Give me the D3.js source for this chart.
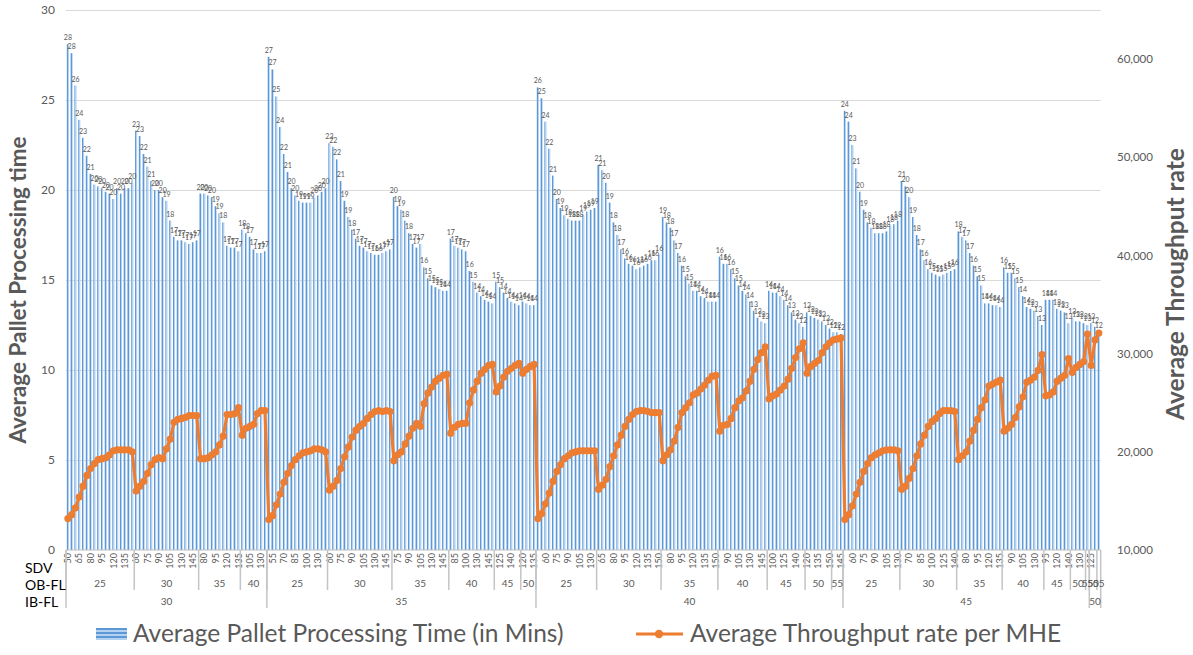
<!DOCTYPE html>
<html>
<head>
<meta charset="utf-8">
<script src="https://cdn.jsdelivr.net/npm/d3@7"></script>
<style>
  body { margin: 0; background: #fff; }
  svg { display: block; }
  text { font-family: Lato, "Open Sans", "Liberation Sans", sans-serif; }
</style>
</head>
<body>
<svg id="chart" width="1193" height="655"></svg>
<script>
// IB-FL levels and the OB-FL levels run under each of them
const ibLevels = [30, 35, 40, 45, 50];
const obLevels = [
  [25, 30, 35, 40],
  [25, 30, 35, 40, 45, 50],
  [25, 30, 35, 40, 45, 50, 55],
  [25, 30, 35, 40, 45, 50, 55],
  [50, 55]
];

// SDV values for each (IB-FL, OB-FL) block, in drawing order
const sdvValues = [
  [50,55,60,65,70,75,80,85,90,95,100,110,120,125,130,135,140,145],
  [60,65,70,75,80,85,90,95,100,105,110,120,130,135,140,145,150],
  [75,80,85,90,95,100,110,120,125,130,135],
  [95,100,105,110,120,130,135],
  [50,55,60,65,70,75,80,85,90,95,100,110,120,130,135,140],
  [60,65,70,75,80,85,90,95,100,105,110,120,130,135,140,145,150],
  [70,75,80,85,90,95,100,105,110,120,130,135,140,145,150],
  [80,85,90,95,100,110,120,130,135,140,145,150],
  [120,125,130,135,140,145,150],
  [120,125,130,135],
  [50,55,60,65,70,75,80,85,90,95,100,105,110,120,130,135],
  [60,65,70,75,80,85,90,95,100,110,120,125,130,135,140,145,150],
  [70,75,80,85,90,95,100,110,120,125,130,135,140,145,150],
  [80,85,90,95,100,105,110,120,130,135,140,145,150],
  [95,100,110,120,125,130,135,140,145,150],
  [120,125,130,135,140,145,150],
  [135,140,145],
  [50,55,60,65,70,75,80,85,90,95,100,105,110,120,130],
  [60,65,70,75,80,85,90,95,100,110,120,125,130,135,140],
  [70,75,80,85,90,95,100,110,120,125,130,135],
  [80,85,90,95,100,105,110,120,130,135,140],
  [95,100,110,120,130,135,140],
  [120,125,130,135],
  [130],
  [125,130],
  [125]
];

// Average pallet processing time (mins) per block
const palletTime = [
  [28.1,27.6,25.8,23.9,22.9,21.9,20.9,20.3,20.2,20.1,19.9,19.8,19.5,20.1,19.8,20.1,20.1,20.4],
  [23.3,23.0,22.0,21.3,20.5,20.0,20.0,19.6,19.4,18.3,17.4,17.2,17.2,17.1,17.0,17.1,17.2],
  [19.8,19.8,19.7,19.6,19.1,18.7,18.2,16.9,16.8,16.8,16.6],
  [17.8,17.6,17.4,16.7,16.5,16.5,16.6],
  [27.4,26.7,25.2,23.5,22.0,21.0,20.1,19.7,19.4,19.3,19.3,19.3,19.6,19.7,19.9,20.1],
  [22.6,22.4,21.7,20.5,19.4,18.5,17.8,17.3,16.9,16.8,16.6,16.5,16.4,16.4,16.5,16.6,16.7],
  [19.6,19.1,18.9,18.3,17.6,17.0,16.8,17.0,15.7,15.1,14.7,14.6,14.5,14.4,14.4],
  [17.3,16.9,16.8,16.7,16.6,15.5,14.9,14.3,14.1,13.9,13.8,13.7],
  [14.9,14.6,14.3,14.0,13.8,13.7,13.6],
  [13.8,13.7,13.6,13.6],
  [25.7,25.1,23.8,22.3,20.8,19.5,19.0,18.6,18.4,18.3,18.3,18.3,18.6,18.8,18.9,19.0],
  [21.4,21.1,20.4,19.3,18.2,17.5,16.7,16.2,15.9,15.8,15.6,15.7,15.8,15.9,16.1,16.1,16.4],
  [18.5,18.2,17.9,17.2,16.5,15.8,15.2,14.8,14.4,14.4,14.1,14.0,13.8,13.8,13.8],
  [16.3,15.9,15.9,15.6,15.1,14.7,14.4,14.2,13.8,13.3,12.9,12.7,12.6],
  [14.4,14.3,14.3,14.1,13.9,13.6,13.2,12.8,12.6,12.4],
  [13.2,13.0,12.9,12.8,12.7,12.5,12.3],
  [12.1,12.1,12.0],
  [24.4,23.8,22.5,21.2,19.9,18.9,18.2,17.9,17.6,17.6,17.6,17.7,18.0,18.1,18.3],
  [20.5,20.2,19.6,18.5,17.5,16.7,16.1,15.6,15.4,15.3,15.2,15.3,15.4,15.5,15.6],
  [17.7,17.4,17.2,16.5,15.8,15.2,14.7,13.7,13.7,13.6,13.6,13.5],
  [15.7,15.4,15.4,15.1,14.6,14.1,13.5,13.4,13.3,13.0,12.5],
  [13.9,13.9,13.9,13.4,13.3,13.2,12.6],
  [12.9,12.7,12.7,12.6],
  [12.5],
  [12.6,12.4],
  [12.1]
];

// Average throughput rate per MHE per block
const throughput = [
  [13200,13600,14300,15400,16500,17600,18300,18800,19200,19300,19400,19700,20100,20200,20200,20200,20200,20000],
  [16000,16500,17000,17800,18700,19200,19400,19300,20300,21300,23000,23300,23400,23500,23700,23700,23700],
  [19300,19300,19400,19700,20000,20700,21600,23800,23800,23900,24500],
  [21700,22400,22600,22800,23900,24200,24200],
  [13100,13500,14600,15700,16900,17800,18600,19200,19600,19900,20000,20100,20300,20300,20200,20000],
  [16100,16500,17100,18300,19500,20500,21500,22200,22600,22900,23400,23800,24100,24200,24100,24200,24100],
  [19100,19700,20000,20800,21600,22400,22900,22600,24900,26000,26600,27200,27500,27800,27900],
  [21900,22500,22800,22900,22900,25000,26300,27200,28000,28400,28800,28900],
  [26100,26700,27600,28200,28500,28800,29000],
  [28000,28400,28700,28900],
  [13200,13700,14700,15800,17000,18000,18700,19300,19600,19900,20000,20100,20100,20100,20100,20100],
  [16200,16600,17200,18500,19600,20700,21700,22600,23300,23800,24100,24200,24200,24100,24000,24000,24000],
  [19100,19700,20200,21100,22500,24000,24500,25000,25800,26000,26400,26800,27300,27700,27800],
  [22100,22700,22800,23400,24500,25200,25500,26200,27200,28400,29400,30100,30700],
  [25400,25700,25900,26300,26700,27400,28500,29600,30500,31100],
  [28000,28700,29000,29300,30100,30700,31100],
  [31400,31500,31600],
  [13100,13600,14500,15700,16900,18000,18800,19400,19700,19900,20100,20200,20200,20200,20100],
  [16200,16500,17300,18300,19600,20800,21700,22600,23100,23400,23900,24200,24200,24200,24100],
  [19200,19600,20000,21100,22200,23300,24500,25300,26700,26900,27100,27300],
  [22100,22400,22800,23500,24600,25600,27100,27300,27600,28300,29900],
  [25700,25800,26100,27200,27500,27800,29500],
  [28100,28600,28900,29200],
  [32000],
  [28800,31400],
  [32100]
];

const leftTicks = [0, 5, 10, 15, 20, 25, 30];
const rightTicks = [10000, 20000, 30000, 40000, 50000, 60000];

// ---- flatten the three-level category structure ----
const rows = [];
const obBlocks = [];
const ibBlocks = [];
let blockIdx = 0;
ibLevels.forEach((ib, i) => {
  const ibStart = rows.length;
  obLevels[i].forEach(ob => {
    const obStart = rows.length;
    sdvValues[blockIdx].forEach((s, k) => {
      rows.push({ g: rows.length, ib, ob, sdv: s,
                  time: palletTime[blockIdx][k], tp: throughput[blockIdx][k] });
    });
    obBlocks.push({ label: ob, start: obStart, end: rows.length });
    blockIdx++;
  });
  ibBlocks.push({ label: ib, start: ibStart, end: rows.length });
});
const N = rows.length;

const svg = d3.select("#chart");
const plotLeft = 66, plotRight = 1100.7, plotTop = 10, plotBottom = 550;

const x = d3.scaleBand().domain(d3.range(N)).range([plotLeft, plotRight]).padding(0);
const bw = x.bandwidth();
const yL = d3.scaleLinear().domain([0, 30]).range([plotBottom, plotTop]);
const yR = d3.scaleLinear().domain([10000, 65000]).range([plotBottom, plotTop]);
const xEdge = i => (i >= N ? plotRight : x(i));

const defs = svg.append("defs");
const grad = defs.append("linearGradient").attr("id", "barFill")
  .attr("x1", "0").attr("x2", "1").attr("y1", "0").attr("y2", "0");
[["0", "#5d98d6"], ["0.5", "#5d98d6"], ["0.5", "#b3d1f0"], ["1", "#b3d1f0"]]
  .forEach(([o, c]) => grad.append("stop").attr("offset", o).attr("stop-color", c));
const pat = defs.append("pattern").attr("id", "legendStripes")
  .attr("width", 4).attr("height", 4).attr("patternUnits", "userSpaceOnUse");
pat.append("rect").attr("width", 4).attr("height", 4).attr("fill", "#b3d1f0");
pat.append("rect").attr("width", 4).attr("height", 2).attr("fill", "#5d98d6");

// gridlines
svg.append("g").attr("transform", `translate(${plotLeft},0)`)
  .call(d3.axisLeft(yL).tickValues(leftTicks.slice(1)).tickSize(-(plotRight - plotLeft)).tickFormat(""))
  .call(g => g.select(".domain").remove())
  .call(g => g.selectAll("line").attr("stroke", "#d9d9d9").attr("stroke-width", 1));

// bars
svg.append("g").selectAll("rect").data(rows).join("rect")
  .attr("x", d => x(d.g) + bw * 0.22)
  .attr("width", bw * 0.56)
  .attr("y", d => yL(d.time))
  .attr("height", d => yL(0) - yL(d.time))
  .attr("fill", "url(#barFill)");

// bar value labels
svg.append("g").selectAll("text").data(rows).join("text")
  .attr("x", d => x(d.g) + bw / 2)
  .attr("y", d => yL(d.time) - 4)
  .attr("text-anchor", "middle")
  .attr("font-size", 7)
  .attr("fill", "#595959")
  .text(d => d3.format(".0f")(d.time));

// category axis baseline
svg.append("line").attr("x1", plotLeft).attr("x2", plotRight)
  .attr("y1", plotBottom).attr("y2", plotBottom)
  .attr("stroke", "#bfbfbf").attr("stroke-width", 1);

// throughput line
const line = d3.line().x(d => x(d.g) + bw / 2).y(d => yR(d.tp));
svg.append("path").datum(rows).attr("d", line)
  .attr("fill", "none").attr("stroke", "#ed7d31").attr("stroke-width", 3.2)
  .attr("stroke-linejoin", "round");
svg.append("g").selectAll("circle").data(rows).join("circle")
  .attr("cx", d => x(d.g) + bw / 2).attr("cy", d => yR(d.tp)).attr("r", 3.6)
  .attr("fill", "#ed7d31");

// left value axis
svg.append("g").attr("transform", "translate(58,0)")
  .call(d3.axisLeft(yL).tickValues(leftTicks).tickSize(0).tickPadding(3))
  .call(g => g.select(".domain").remove())
  .call(g => g.selectAll("text").attr("font-size", 12).attr("fill", "#595959")
    .style("font-family", "Lato, sans-serif"));

// right value axis
svg.append("g").attr("transform", "translate(1114,0)")
  .call(d3.axisRight(yR).tickValues(rightTicks).tickSize(0).tickPadding(3).tickFormat(d3.format(",")))
  .call(g => g.select(".domain").remove())
  .call(g => g.selectAll("text").attr("font-size", 11.5).attr("fill", "#595959")
    .style("font-family", "Lato, sans-serif"));

// SDV labels (every third category)
const sdvTicks = d3.range(0, N, 3);
svg.append("g").attr("transform", `translate(0,${plotBottom})`)
  .call(d3.axisBottom(x).tickValues(sdvTicks).tickSize(0).tickFormat(i => rows[i].sdv))
  .call(g => g.select(".domain").remove())
  .call(g => g.selectAll("text")
    .attr("transform", "rotate(-90)")
    .attr("text-anchor", "end")
    .attr("x", -3).attr("y", 0).attr("dy", "0.35em")
    .attr("font-size", 9).attr("fill", "#595959")
    .style("font-family", "Lato, sans-serif"));

// group separators and group labels
const sep = svg.append("g").attr("stroke", "#c4c4c4").attr("stroke-width", 1.5);
obBlocks.forEach(b => {
  sep.append("line").attr("x1", xEdge(b.start)).attr("x2", xEdge(b.start))
    .attr("y1", plotBottom).attr("y2", 590);
});
ibBlocks.forEach(b => {
  sep.append("line").attr("x1", xEdge(b.start)).attr("x2", xEdge(b.start))
    .attr("y1", plotBottom).attr("y2", 608);
});
sep.append("line").attr("x1", plotRight).attr("x2", plotRight)
  .attr("y1", plotBottom).attr("y2", 608);

svg.append("g").selectAll("text").data(obBlocks).join("text")
  .attr("x", d => (xEdge(d.start) + xEdge(d.end)) / 2)
  .attr("y", 587)
  .attr("text-anchor", "middle").attr("font-size", 10).attr("fill", "#595959")
  .text(d => d.label);
svg.append("g").selectAll("text").data(ibBlocks).join("text")
  .attr("x", d => (xEdge(d.start) + xEdge(d.end)) / 2)
  .attr("y", 605)
  .attr("text-anchor", "middle").attr("font-size", 10).attr("fill", "#595959")
  .text(d => d.label);

// level names
[["SDV", 573], ["OB-FL", 590], ["IB-FL", 607]].forEach(([t, yy]) => {
  svg.append("text").attr("x", 25).attr("y", yy).attr("font-size", 14)
    .attr("fill", "#000").text(t);
});

// axis titles
svg.append("text")
  .attr("transform", "translate(26,290) rotate(-90)")
  .attr("text-anchor", "middle").attr("font-size", 22.5).attr("font-weight", "bold")
  .attr("fill", "#595959").text("Average Pallet Processing time");
svg.append("text")
  .attr("transform", "translate(1184,284) rotate(-90)")
  .attr("text-anchor", "middle").attr("font-size", 24.5).attr("font-weight", "bold")
  .attr("fill", "#595959").text("Average Throughput rate");

// legend
const lg = svg.append("g");
lg.append("rect").attr("x", 96).attr("y", 628).attr("width", 31).attr("height", 12)
  .attr("fill", "url(#legendStripes)");
lg.append("text").attr("x", 133).attr("y", 642).attr("font-size", 24.5).attr("fill", "#595959")
  .text("Average Pallet Processing Time (in Mins)");
lg.append("line").attr("x1", 636).attr("x2", 683).attr("y1", 634).attr("y2", 634)
  .attr("stroke", "#ed7d31").attr("stroke-width", 3.2);
lg.append("circle").attr("cx", 659).attr("cy", 634).attr("r", 4.2).attr("fill", "#ed7d31");
lg.append("text").attr("x", 690).attr("y", 642).attr("font-size", 24.5).attr("fill", "#595959")
  .text("Average Throughput rate per MHE");
</script>
</body>
</html>
